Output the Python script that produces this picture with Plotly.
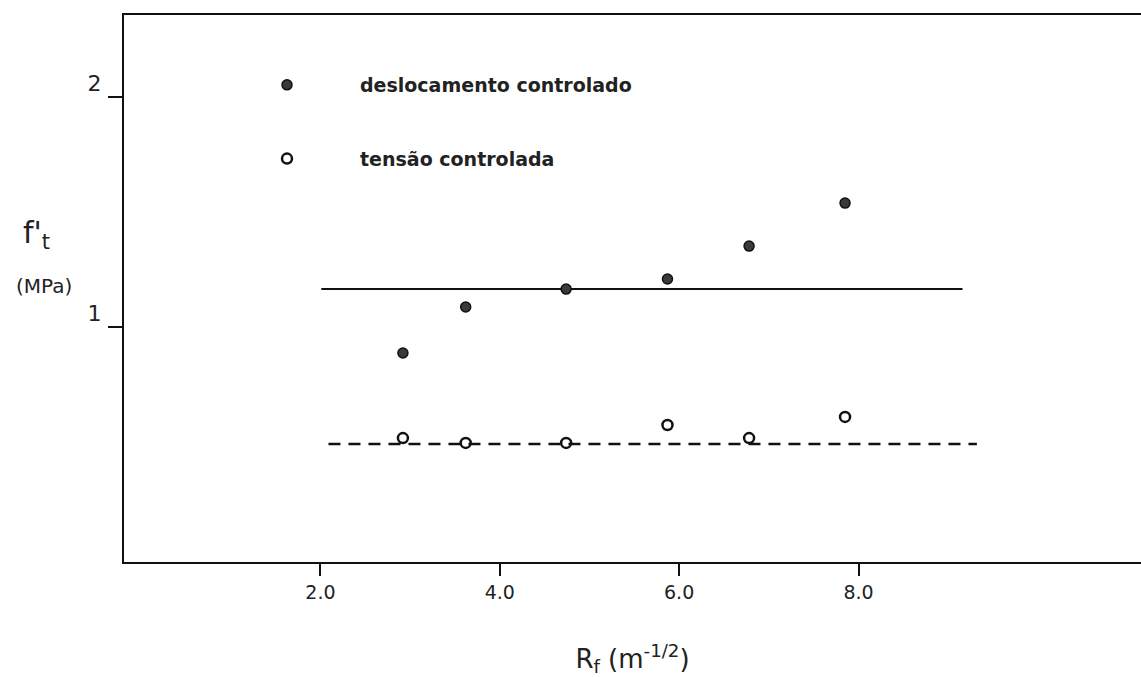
import plotly.graph_objects as go

# Data
rf = [2.92, 3.62, 4.74, 5.87, 6.78, 7.85]
ft_desloc = [0.887, 1.087, 1.165, 1.209, 1.352, 1.539]
ft_tensao = [0.517, 0.496, 0.496, 0.574, 0.517, 0.609]
mean_desloc_x = [2.01, 9.16]
mean_desloc_y = [1.165, 1.165]
mean_tensao_x = [2.09, 9.32]
mean_tensao_y = [0.491, 0.491]
x_ticks = [2, 4, 6, 8]
x_ticklabels = ["2.0", "4.0", "6.0", "8.0"]
y_ticks = [1, 2]
y_ticklabels = ["1", "2"]

W, H = 1141, 677
ML, MR, MT, MB = 124, 0, 15, 115

fig = go.Figure()
fig.add_trace(go.Scatter(x=mean_desloc_x, y=mean_desloc_y, mode="lines",
                         line=dict(color="#111", width=2), showlegend=False))
fig.add_trace(go.Scatter(x=mean_tensao_x, y=mean_tensao_y, mode="lines",
                         line=dict(color="#111", width=2.5, dash="12px,8px"), showlegend=False))
fig.add_trace(go.Scatter(x=rf, y=ft_desloc, mode="markers", name="deslocamento controlado",
                         legendgroup="a",
                         marker=dict(symbol="circle", size=10, color="#3a3a3a",
                                     line=dict(color="#111", width=1.5))))
fig.add_trace(go.Scatter(x=rf, y=ft_tensao, mode="markers", name="tensão controlada",
                         legendgroup="b",
                         marker=dict(symbol="circle-open", size=10, color="#111",
                                     line=dict(color="#111", width=2.5))))

fig.update_layout(
    width=W, height=H,
    margin=dict(l=ML, r=MR, t=MT, b=MB),
    paper_bgcolor="white", plot_bgcolor="white",
    font=dict(family="DejaVu Sans", color="#222"),
    legend=dict(x=(214 - ML) / (W - ML), y=(H - MB - 66) / (H - MB - MT),
                xanchor="left", yanchor="top",
                font=dict(family="DejaVu Sans", size=19, weight="bold", color="#222"),
                tracegroupgap=46, itemwidth=136, bgcolor="rgba(0,0,0,0)"),
    xaxis=dict(range=[-0.19, 11.15], showgrid=False, zeroline=False,
               showline=True, linecolor="#111", linewidth=2, mirror=True,
               ticks="outside", ticklen=12, tickwidth=2, tickcolor="#111",
               tickvals=x_ticks, ticktext=x_ticklabels,
               tickfont=dict(family="DejaVu Sans", size=19, color="#222"),
               title=dict(text="R<sub>f</sub> (m<sup>-1/2</sup>)",
                          font=dict(family="DejaVu Sans", size=26, color="#222"),
                          standoff=48)),
    yaxis=dict(range=[-0.022, 2.357], showgrid=False, zeroline=False,
               showline=True, linecolor="#111", linewidth=2,
               ticks="outside", ticklen=14, tickwidth=2, tickcolor="#111",
               tickvals=y_ticks, ticktext=y_ticklabels,
               ticklabelshift=-14, ticklabelstandoff=2,
               tickfont=dict(family="DejaVu Sans", size=22, color="#222")),
    annotations=[
        dict(text="f'<sub>t</sub>", xref="paper", yref="paper", xanchor="center",
             x=-(ML - 36) / (W - ML), y=(H - MB - 234) / (H - MB - MT),
             showarrow=False, font=dict(family="DejaVu Sans", size=30, color="#222")),
        dict(text="(MPa)", xref="paper", yref="paper", xanchor="center",
             x=-(ML - 44) / (W - ML), y=(H - MB - 286) / (H - MB - MT),
             showarrow=False, font=dict(family="DejaVu Sans", size=20, color="#222")),
    ],
)

fig.write_html("out.html")
